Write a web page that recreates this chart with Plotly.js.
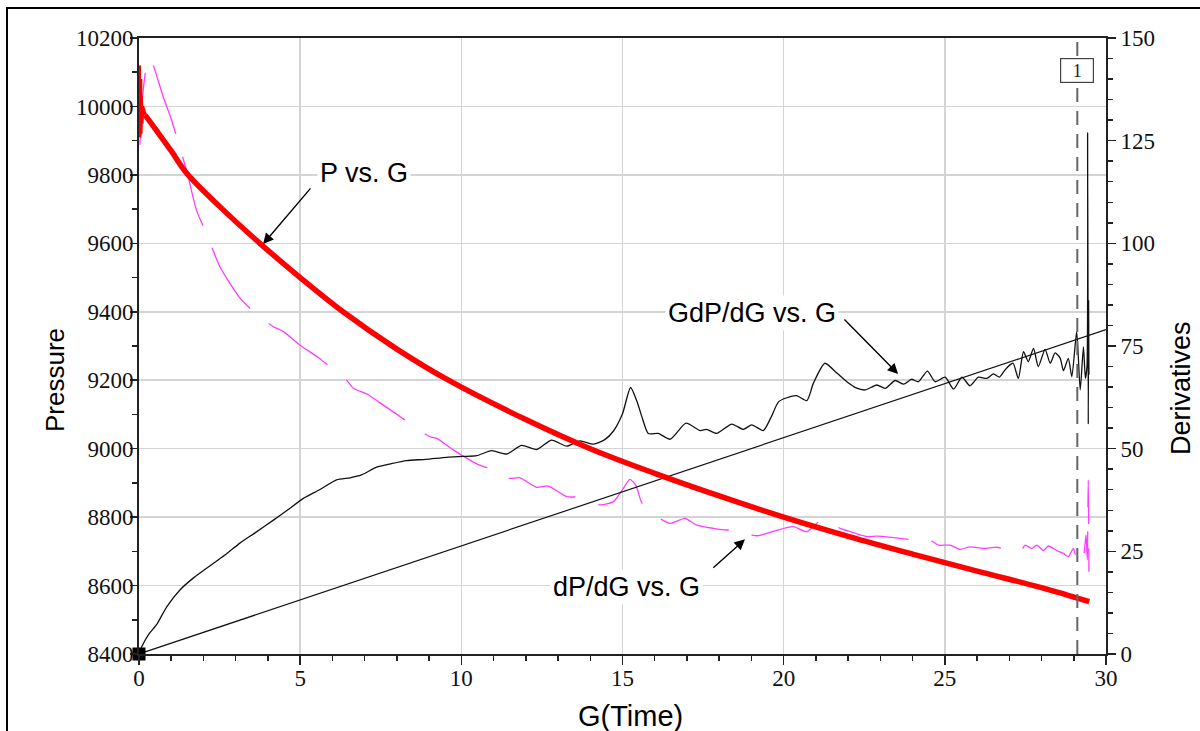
<!DOCTYPE html>
<html>
<head>
<meta charset="utf-8">
<script src="https://cdn.plot.ly/plotly-3.0.1.min.js"></script>
<style>html,body{margin:0;padding:0;background:#fff;}#chart{width:1200px;height:731px;}</style>
</head>
<body>
<div id="chart"></div>
<script>
// ---- Data ----
// P vs. G (left axis, Pressure): noisy start at G = 0, then the smooth decline
var gPStart = [0, 0.01, 0.02, 0.03, 0.04, 0.05, 0.06, 0.08, 0.1, 0.15, 0.19];
var pressureStart = [10120, 9910, 10110, 9930, 10080, 9920, 10030, 9950, 10000, 9985, 9975];
var gP = [0.19, 0.5, 1.0, 1.48, 2.5, 3.75, 5, 6.33, 8, 9.6, 12, 14, 16, 18, 20, 22, 24, 26, 28, 29.48];
var pressure = [9975, 9935, 9870, 9805, 9708, 9600, 9500, 9400, 9291, 9200, 9085, 9000, 8928, 8862, 8800, 8744, 8692, 8642, 8594, 8553];

// GdP/dG vs. G (right axis, Derivatives)
var gGdP = [0, 0.1, 0.3, 0.55, 0.86, 1.27, 1.7, 2.31, 2.7, 3.13, 3.6, 4.17, 4.6, 5.1, 5.6, 6.13, 6.55, 6.9, 7.37, 7.8, 8.3, 8.9, 9.55, 10.06, 10.48, 10.94, 11.41, 11.87, 12.34, 12.80, 13.27, 13.68, 14.1, 14.45, 14.72, 15.0, 15.25, 15.45, 15.6, 15.8, 16.11, 16.48, 16.97, 17.41, 17.61, 17.92, 18.39, 18.75, 19.01, 19.37, 19.6, 19.84, 20.1, 20.4, 20.72, 20.92, 21.28, 21.65, 21.96, 22.25, 22.53, 22.89, 23.15, 23.46, 23.72, 23.97, 24.18, 24.46, 24.70, 25.01, 25.27, 25.53, 25.78, 26.04, 26.3, 26.51, 26.69, 26.87, 27.02, 27.12, 27.28, 27.44, 27.59, 27.75, 27.9, 28.11, 28.27, 28.42, 28.58, 28.68, 28.83, 28.94, 29.09, 29.2, 29.3, 29.36, 29.41, 29.43, 29.45, 29.46, 29.47];
var gdpdg = [0, 2.0, 4.8, 7.2, 11.5, 15.6, 18.6, 22.1, 24.3, 27, 29.5, 32.6, 35.0, 37.9, 40.0, 42.4, 42.9, 43.6, 45.5, 46.3, 47.1, 47.4, 47.9, 48.1, 48.3, 49.5, 48.7, 50.8, 49.8, 52.1, 50.6, 51.9, 51.1, 52.2, 54.3, 58.5, 64.9, 61.5, 57.8, 53.7, 53.7, 52.3, 56.2, 54.4, 54.7, 53.7, 56.0, 54.7, 55.8, 54.4, 57.5, 61.4, 62.4, 62.9, 61.7, 65.9, 70.8, 68.4, 66.3, 64.8, 64.3, 65.5, 64.7, 66.6, 65.7, 66.9, 66.3, 68.9, 66.3, 67.4, 64.5, 67.4, 65.3, 67.4, 67.1, 68.2, 67.4, 69.2, 70.4, 70.8, 67.1, 73.6, 71.2, 74.4, 70.0, 74.2, 70.8, 73.3, 72.0, 69.0, 72.0, 67.5, 78.5, 64.3, 74.8, 67.1, 70, 127, 56, 86, 68];

// Straight line through the origin (right axis)
var gLine = [0, 30];
var dLine = [0, 79];

// dP/dG vs. G (right axis, Derivatives)
var gdP = [0.03, 0.08, 0.14, 0.24, 0.36, 0.5, 0.75, 0.98, 1.2, 1.5, 1.79, 2.08, 2.51, 3.11, 3.67, 4.17, 4.48, 5.0, 5.56, 6.15, 6.44, 6.65, 7.07, 7.58, 7.96, 8.56, 9.03, 9.24, 9.75, 10.48, 11.12, 11.46, 11.82, 12.34, 12.7, 13.27, 13.66, 14.3, 14.72, 15.0, 15.23, 15.42, 15.6, 16.08, 16.48, 16.94, 17.3, 17.82, 18.23, 18.54, 18.86, 19.2, 19.73, 20.3, 20.72, 21.23, 21.75, 22.06, 22.58, 22.89, 23.35, 24.02, 24.44, 24.80, 25.16, 25.47, 25.78, 26.2, 26.61, 26.87, 27.33, 27.49, 27.7, 27.85, 28.06, 28.21, 28.47, 28.68, 28.83, 28.99, 29.09, 29.2, 29.3, 29.38, 29.42, 29.45, 29.47];
var dpdg = [124, 133, 138, 143.5, 145.1, 142, 135.7, 130.7, 125.2, 117, 107.9, 102.6, 94.3, 86.9, 82.5, 79.7, 78.5, 75.2, 72.2, 68.5, 66.7, 64.7, 63.3, 60.6, 58.6, 55.2, 52.9, 52.5, 49.7, 46.3, 44.4, 42.8, 42.9, 40.6, 40.9, 38.3, 38.2, 36.3, 37.1, 40, 42.5, 41, 36.8, 33.4, 31.8, 33.0, 31.4, 30.6, 30.2, 30.4, 29.2, 28.8, 30.0, 31.0, 29.8, 33.0, 30.6, 29.8, 28.6, 28.7, 28.4, 27.8, 28.2, 26.5, 26.5, 25.5, 26.1, 25.7, 26.0, 25.5, 24.8, 26.5, 25.7, 26.5, 25.2, 26.3, 25.2, 24.5, 23.7, 25.7, 23.3, 25.3, 23.7, 29, 22.9, 42.4, 20];

// Start marker and the event line
var startG = [0];
var startD = [0];
var eventG = 29.11;
var eventLabel = "1";

// Axis titles
var xTitle = "G(Time)";
var yLeftTitle = "Pressure";
var yRightTitle = "Derivatives";

// ---- Chart ----
var serif = "Liberation Serif";
var sans = "Liberation Sans";

var traces = [
  {x: gdP, y: dpdg, yaxis: "y", type: "scatter", mode: "lines",
   line: {color: "#ff3cff", width: 1.3, dash: "72px,24px", shape: "spline", smoothing: 0.6}, showlegend: false, hoverinfo: "skip"},
  {x: gGdP, y: gdpdg, yaxis: "y", type: "scatter", mode: "lines",
   line: {color: "#111", width: 1.3, shape: "spline", smoothing: 0.6}, showlegend: false, hoverinfo: "skip"},
  {x: gLine, y: dLine, yaxis: "y", type: "scatter", mode: "lines",
   line: {color: "#111", width: 1.2}, showlegend: false, hoverinfo: "skip"},
  {x: startG, y: startD, yaxis: "y", type: "scatter", mode: "markers",
   marker: {symbol: "square", size: 13, color: "#000"}, cliponaxis: false, showlegend: false, hoverinfo: "skip"},
  {x: gPStart, y: pressureStart, yaxis: "y2", type: "scatter", mode: "lines",
   line: {color: "#ff0000", width: 4}, showlegend: false, hoverinfo: "skip"},
  {x: gP, y: pressure, yaxis: "y2", type: "scatter", mode: "lines",
   line: {color: "#ff0000", width: 5.5, shape: "spline", smoothing: 1}, showlegend: false, hoverinfo: "skip"}
];

var tickFont = {family: serif, size: 23, color: "#111"};

var layout = {
  width: 1200, height: 731,
  margin: {l: 139, r: 94, t: 38, b: 77},
  paper_bgcolor: "#fff", plot_bgcolor: "#fff",
  showlegend: false,
  xaxis: {
    range: [0, 30], dtick: 5, tick0: 0, tickformat: "d",
    ticks: "outside", ticklen: 9, tickwidth: 1.5, tickcolor: "#222", ticklabelstandoff: -7,
    showline: true, linecolor: "#222", linewidth: 2, mirror: true,
    showgrid: true, gridcolor: "#d4d4d4", gridwidth: 1.5, zeroline: false,
    minor: {dtick: 1, ticks: "outside", ticklen: 5, tickwidth: 1.5, tickcolor: "#222", showgrid: false},
    tickfont: tickFont
  },
  yaxis: {
    range: [0, 150], dtick: 25, tick0: 0, side: "right", tickformat: "d",
    ticks: "outside", ticklen: 8, tickwidth: 1.5, tickcolor: "#222",
    showline: true, linecolor: "#222", linewidth: 2,
    showgrid: false, zeroline: false,
    minor: {dtick: 5, ticks: "outside", ticklen: 5, tickwidth: 1.5, tickcolor: "#222", showgrid: false},
    tickfont: tickFont
  },
  yaxis2: {
    range: [8400, 10200], dtick: 200, tick0: 8400, side: "left", overlaying: "y", tickformat: "d",
    ticks: "outside", ticklen: 7, tickwidth: 1.5, tickcolor: "#222", ticklabelstandoff: -8,
    showline: true, linecolor: "#222", linewidth: 2,
    showgrid: true, gridcolor: "#d4d4d4", gridwidth: 1.5, zeroline: false,
    minor: {dtick: 100, ticks: "outside", ticklen: 5, tickwidth: 1.5, tickcolor: "#222", showgrid: false},
    tickfont: tickFont
  },
  shapes: [
    {type: "line", xref: "x", yref: "paper", x0: eventG, x1: eventG, y0: 0, y1: 1,
     line: {color: "#666", width: 2, dash: "14px,9px"}},
    {type: "rect", xref: "paper", yref: "paper", x0: -0.1365, x1: 1.3, y0: -0.3, y1: 1.0487,
     line: {color: "#000", width: 2}, fillcolor: "rgba(0,0,0,0)", layer: "above"}
  ],
  annotations: [
    // axis titles
    {xref: "paper", yref: "paper", x: 0.5078, y: -0.1006, xanchor: "center", yanchor: "middle",
     text: xTitle, showarrow: false, font: {family: sans, size: 29, color: "#000"}},
    {xref: "paper", yref: "paper", x: -0.0869, y: 0.4448, xanchor: "center", yanchor: "middle", textangle: -90,
     text: yLeftTitle, showarrow: false, font: {family: sans, size: 26, color: "#000"}},
    {xref: "paper", yref: "paper", x: 1.0776, y: 0.4318, xanchor: "center", yanchor: "middle", textangle: -90,
     text: yRightTitle, showarrow: false, font: {family: sans, size: 27, color: "#000"}},
    // event box
    {xref: "x", yref: "paper", x: eventG, y: 0.948, xanchor: "center", yanchor: "middle",
     text: eventLabel, showarrow: false,
     font: {family: serif, size: 18, color: "#222"}, bgcolor: "#fff", bordercolor: "#444", borderwidth: 1.2,
     width: 28, height: 19, borderpad: 2},
    // series labels
    {xref: "x", yref: "y2", x: 6.98, y: 9805, xanchor: "center", yanchor: "middle", text: "P vs. G", showarrow: false,
     font: {family: sans, size: 27, color: "#000"}, bgcolor: "#fff", borderpad: 2},
    {xref: "x", yref: "y2", x: 19.02, y: 9396, xanchor: "center", yanchor: "middle", text: "GdP/dG vs. G", showarrow: false,
     font: {family: sans, size: 27, color: "#000"}, bgcolor: "#fff", borderpad: 2},
    {xref: "x", yref: "y2", x: 15.11, y: 8596, xanchor: "center", yanchor: "middle", text: "dP/dG vs. G", showarrow: false,
     font: {family: sans, size: 27, color: "#000"}, bgcolor: "#fff", borderpad: 2},
    // arrows
    {xref: "x", yref: "y2", axref: "x", ayref: "y2", x: 3.85, y: 9598, ax: 5.36, ay: 9765, text: "",
     showarrow: true, arrowhead: 2, arrowsize: 1.5, arrowwidth: 1.4, arrowcolor: "#000"},
    {xref: "x", yref: "y2", axref: "x", ayref: "y2", x: 23.55, y: 9218, ax: 21.84, ay: 9382, text: "",
     showarrow: true, arrowhead: 2, arrowsize: 1.5, arrowwidth: 1.4, arrowcolor: "#000"},
    {xref: "x", yref: "y2", axref: "x", ayref: "y2", x: 18.80, y: 8735, ax: 17.77, ay: 8648, text: "",
     showarrow: true, arrowhead: 2, arrowsize: 1.5, arrowwidth: 1.4, arrowcolor: "#000"}
  ]
};

Plotly.newPlot("chart", traces, layout, {staticPlot: true, displayModeBar: false});
</script>
</body>
</html>
